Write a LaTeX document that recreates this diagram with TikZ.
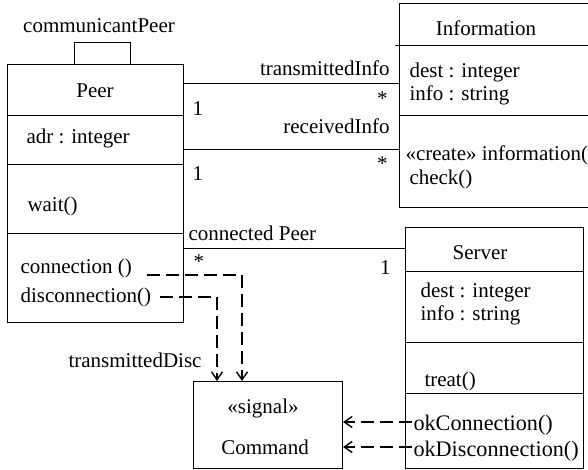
\documentclass[tikz,border=0pt]{standalone}
\usepackage{fontspec}
\setmainfont{Liberation Serif}
\usetikzlibrary{arrows.meta}
\begin{document}
\begin{tikzpicture}[x=1pt,y=-1pt,
  line width=1pt,
  every node/.style={font=\rmfamily\fontsize{21}{25}\selectfont, inner sep=0pt},
  bigtext/.style={font=\rmfamily\fontsize{22.2}{26}\selectfont},
  classbox/.style={draw, line width=1pt, minimum width=#1, anchor=north west},
  txt/.style={anchor=base west},
  rtxt/.style={anchor=base east},
  ctxt/.style={anchor=base},
  dep/.style={line width=1.3pt, dash pattern=on 13pt off 6pt},
  deparrow/.style={dep, -{Straight Barb[length=8pt,width=11pt,line width=1.4pt]}}]
\useasboundingbox (0,0) rectangle (588,469);
\clip (0,0) rectangle (588,469);

% class boxes
\node[classbox=176pt, minimum height=258pt] (peer) at (7,64) {};
\node[classbox=221pt, minimum height=204pt] (info) at (399,3) {};
\node[classbox=178pt, minimum height=241pt] (server) at (405,227) {};
\node[classbox=149pt, minimum height=87pt] (command) at (193,381) {};

% compartments of Peer
\draw (peer.west |- 0,115) -- (peer.east |- 0,115);
\draw (peer.west |- 0,164) -- (peer.east |- 0,164);
\draw (peer.west |- 0,233) -- (peer.east |- 0,233);
\node[ctxt] (peername) at (95,97) {Peer};
\node[txt] (peeradr) at (26,143) {adr : integer};
\node[txt] (peerwait) at (27,211) {wait()};
\node[txt] (peerconn) at (20,273) {connection ()};
\node[txt] (peerdisc) at (20,302) {disconnection()};

% compartments of Information
\draw (395,45) -- (info.east |- 0,45);
\draw (info.west |- 0,115) -- (info.east |- 0,115);
\node[ctxt] (infoname) at (486,35) {Information};
\node[txt] (infodest) at (409,77) {dest : integer};
\node[txt] (infoinfo) at (409,100) {info : string};
\node[txt] (infocreate) at (405,160) {«create» information(};
\node[txt] (infocheck) at (409,184) {check()};

% compartments of Server
\draw (server.west |- 0,271) -- (server.east |- 0,271);
\draw (server.west |- 0,342) -- (server.east |- 0,342);
\draw (server.west |- 0,393) -- (server.east |- 0,393);
\node[ctxt] (servername) at (480,259) {Server};
\node[txt] (serverdest) at (420,297) {dest : integer};
\node[txt] (serverinfo) at (420,320) {info : string};
\node[txt] (servertreat) at (424,386) {treat()};
\node[txt, bigtext] (serverok) at (413,430) {okConnection()};
\node[txt, bigtext] (serverokd) at (413,456) {okDisconnection()};

% signal Command
\node[ctxt] (cmdstereo) at (263,413) {«signal»};
\node[ctxt] (cmdname) at (265,454) {Command};

% self association of Peer
\coordinate (loopa) at (74,42);
\coordinate (loopb) at (130,42);
\draw (peer.north -| loopa) -- (loopa) -- (loopb) -- (peer.north -| loopb);
\node[ctxt] (loopname) at (99,32) {communicantPeer};

% associations Peer -- Information
\draw (peer.east |- 0,83) -- (info.west |- 0,83);
\node[rtxt] (tinfo) at (390,75) {transmittedInfo};
\node[txt] (tone) at (192,115) {1};
\node[rtxt] (tstar) at (388,105) {*};
\draw (peer.east |- 0,149) -- (info.west |- 0,149);
\node[rtxt] (rinfo) at (390,133) {receivedInfo};
\node[txt] (rone) at (192,180) {1};
\node[rtxt] (rstar) at (388,170) {*};

% association Peer -- Server
\draw (peer.east |- 0,248) -- (server.west |- 0,248);
\node[txt] (cpeer) at (188,240) {connected Peer};
\node[txt] (cstar) at (193,268) {*};
\node[rtxt] (cone) at (391,274) {1};

% signals sent by Peer
\coordinate (connstart) at (147,275);
\coordinate (connbend) at (242,275);
\coordinate (discstart) at (160,297);
\coordinate (discbend) at (217,297);
\draw[deparrow] (connstart) -- (connbend) -- (command.north -| connbend);
\draw[deparrow] (discstart) -- (discbend) -- (command.north -| discbend);
\node[rtxt] (tdisc) at (202,367) {transmittedDisc};

% signals sent by Server
\draw[deparrow] ([xshift=-1pt]serverok.west |- 0,422) -- (command.east |- 0,422);
\draw[deparrow] ([xshift=-1pt]serverokd.west |- 0,447) -- (command.east |- 0,447);
\end{tikzpicture}
\end{document}
